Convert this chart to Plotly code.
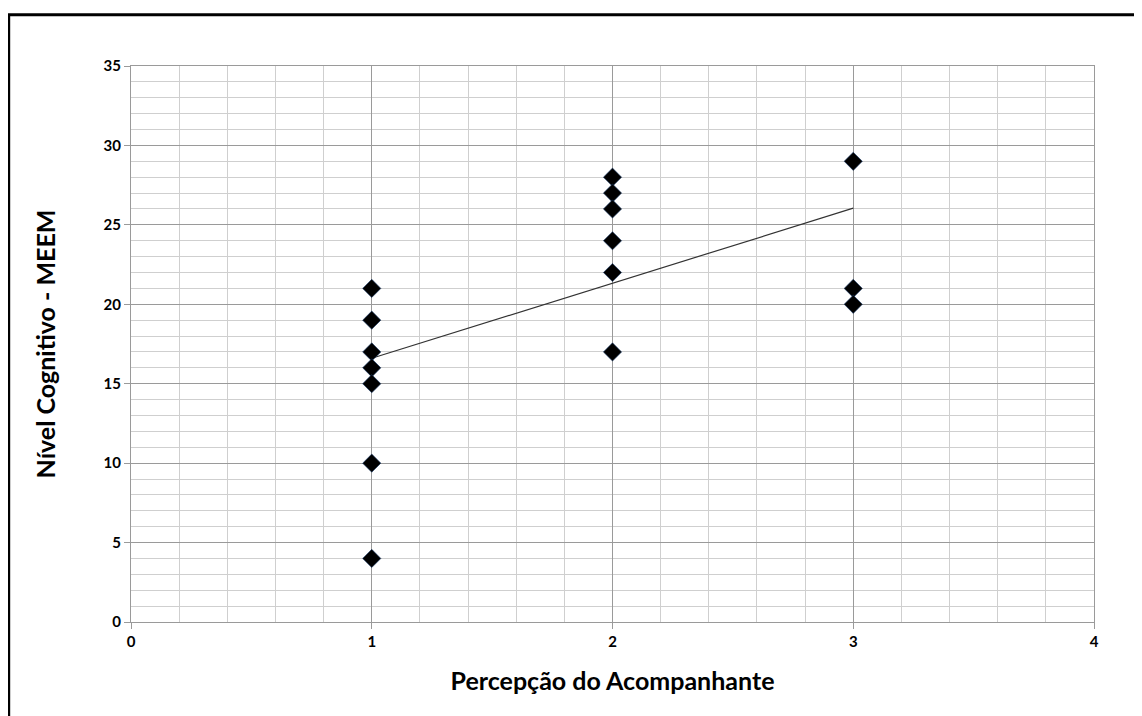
import plotly.graph_objects as go

# Data
x_vals = [1, 1, 1, 1, 1, 1, 1, 2, 2, 2, 2, 2, 2, 3, 3, 3]
y_vals = [21, 19, 17, 16, 15, 10, 4, 28, 27, 26, 24, 22, 17, 29, 21, 20]
trend_x = [1, 3]
trend_y = [16.6, 26.05]

x_title = "Percepção do Acompanhante"
y_title = "Nível Cognitivo - MEEM"

FONT = "Lato"

fig = go.Figure()

fig.add_trace(go.Scatter(
    x=trend_x, y=trend_y, mode="lines",
    line=dict(color="#333333", width=1.2),
    showlegend=False, hoverinfo="skip"))
fig.add_trace(go.Scatter(
    x=x_vals, y=y_vals, mode="markers",
    marker=dict(symbol="diamond", size=14, color="black",
                line=dict(width=0.6, color="#1a3a6a")),
    showlegend=False))

fig.update_xaxes(
    range=[0, 4], dtick=1, tick0=0,
    showgrid=True, gridcolor="#9a9a9a", gridwidth=1,
    minor=dict(dtick=0.2, showgrid=True, gridcolor="#cfcfcf", gridwidth=1,
               ticks=""),
    ticks="outside", ticklen=6, tickcolor="#9a9a9a",
    showline=True, linecolor="#9a9a9a", linewidth=1, mirror=True,
    zeroline=False,
    tickfont=dict(family=FONT, size=15, color="black", weight="bold"),
    title=dict(text=x_title, font=dict(family=FONT, size=25, color="black", weight="bold"),
               standoff=23),
)
fig.update_yaxes(
    range=[0, 35], dtick=5, tick0=0,
    showgrid=True, gridcolor="#9a9a9a", gridwidth=1,
    minor=dict(dtick=1, showgrid=True, gridcolor="#cfcfcf", gridwidth=1,
               ticks=""),
    ticks="outside", ticklen=6, tickcolor="#9a9a9a",
    showline=True, linecolor="#9a9a9a", linewidth=1, mirror=True,
    zeroline=False,
    tickfont=dict(family=FONT, size=15, color="black", weight="bold"),
    title=dict(text=y_title, font=dict(family=FONT, size=25, color="black", weight="bold"),
               standoff=40),
)

fig.add_shape(type="rect", xref="paper", yref="paper",
              x0=-0.127, x1=1.2, y0=-0.3, y1=1.092,
              line=dict(color="black", width=3), fillcolor="rgba(0,0,0,0)",
              layer="above")

fig.update_layout(
    width=1142, height=716,
    margin=dict(l=123, r=56, t=58, b=102, autoexpand=False),
    plot_bgcolor="white", paper_bgcolor="white",
    showlegend=False,
)

fig.write_html("out.html")
